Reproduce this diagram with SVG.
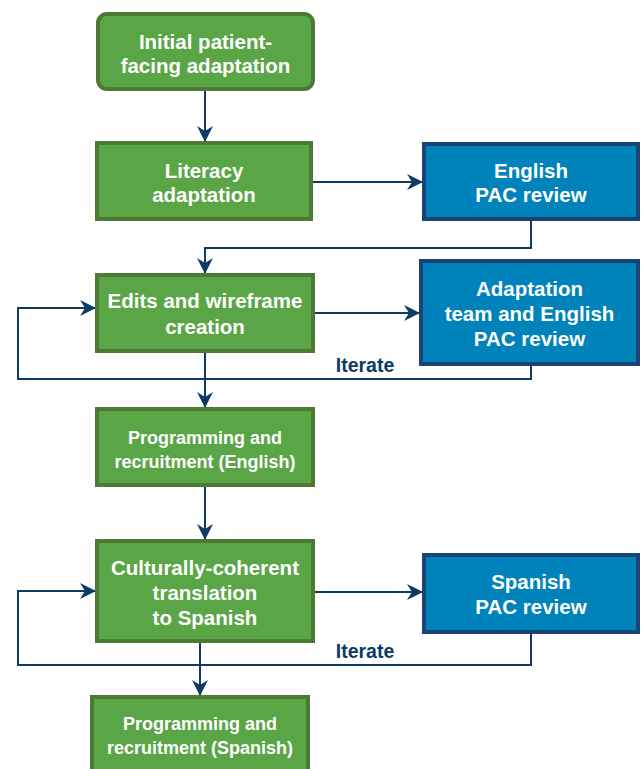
<svg xmlns="http://www.w3.org/2000/svg" width="641" height="769" viewBox="0 0 641 769">
<style>
.g{fill:#5aa646;stroke:#4c7a35;stroke-width:4}
.b{fill:#0083bb;stroke:#1b4474;stroke-width:4}
.t{fill:#fff;font-family:"Liberation Sans",Arial,sans-serif;font-weight:bold;font-size:20.5px;text-anchor:middle}
.s{font-size:18px}
.c{fill:none;stroke:#0d3b66;stroke-width:2}
.l{fill:#0d3b66;font-family:"Liberation Sans",Arial,sans-serif;font-weight:bold;font-size:19.5px;text-anchor:middle}
</style>
<defs>
<marker id="a" viewBox="0 0 16 16" refX="15" refY="8" markerWidth="16" markerHeight="16" markerUnits="userSpaceOnUse" orient="auto">
<path d="M0,0 L16,8 L0,16 L5,8 z" fill="#0d3b66"/>
</marker>
</defs>
<g id="connectors">
<path class="c" d="M205,89 V141" marker-end="url(#a)"/>
<path class="c" d="M313,182 H422" marker-end="url(#a)"/>
<path class="c" d="M531,219 V248 H205 V273" marker-end="url(#a)"/>
<path class="c" d="M313,313 H419" marker-end="url(#a)"/>
<path class="c" d="M531,364 V379 H18 V308 H95" marker-end="url(#a)"/>
<path class="c" d="M205,351 V407" marker-end="url(#a)"/>
<path class="c" d="M205,485 V539" marker-end="url(#a)"/>
<path class="c" d="M313,592 H422" marker-end="url(#a)"/>
<path class="c" d="M531,632 V665 H18 V591 H95" marker-end="url(#a)"/>
<path class="c" d="M200,641 V695" marker-end="url(#a)"/>
<text class="l" x="365" y="372">Iterate</text>
<text class="l" x="365" y="658">Iterate</text>
</g>
<g id="n1"><rect class="g" x="98" y="14" width="215" height="75" rx="9"/>
<text class="t" x="205.5" y="49">Initial patient-</text><text class="t" x="205.5" y="73">facing adaptation</text></g>
<g id="n2"><rect class="g" x="97" y="143" width="214" height="76"/>
<text class="t" x="204" y="178">Literacy</text><text class="t" x="204" y="202">adaptation</text></g>
<g id="n3"><rect class="b" x="424" y="144" width="214" height="75"/>
<text class="t" x="531" y="178">English</text><text class="t" x="531" y="202">PAC review</text></g>
<g id="n4"><rect class="g" x="97" y="275" width="216" height="76"/>
<text class="t" x="205" y="308">Edits and wireframe</text><text class="t" x="205" y="334">creation</text></g>
<g id="n5"><rect class="b" x="421" y="261" width="217" height="103"/>
<text class="t" x="529.5" y="296">Adaptation</text><text class="t" x="529.5" y="321">team and English</text><text class="t" x="529.5" y="346">PAC review</text></g>
<g id="n6"><rect class="g" x="97" y="409" width="216" height="76"/>
<text class="t s" x="205" y="444">Programming and</text><text class="t s" x="205" y="468">recruitment (English)</text></g>
<g id="n7"><rect class="g" x="97" y="541" width="216" height="100"/>
<text class="t" x="205" y="575">Culturally-coherent</text><text class="t" x="205" y="600">translation</text><text class="t" x="205" y="625">to Spanish</text></g>
<g id="n8"><rect class="b" x="424" y="555" width="214" height="77"/>
<text class="t" x="531" y="589">Spanish</text><text class="t" x="531" y="614">PAC review</text></g>
<g id="n9"><rect class="g" x="92" y="697" width="216" height="80"/>
<text class="t s" x="200" y="730">Programming and</text><text class="t s" x="200" y="754">recruitment (Spanish)</text></g>
</svg>
